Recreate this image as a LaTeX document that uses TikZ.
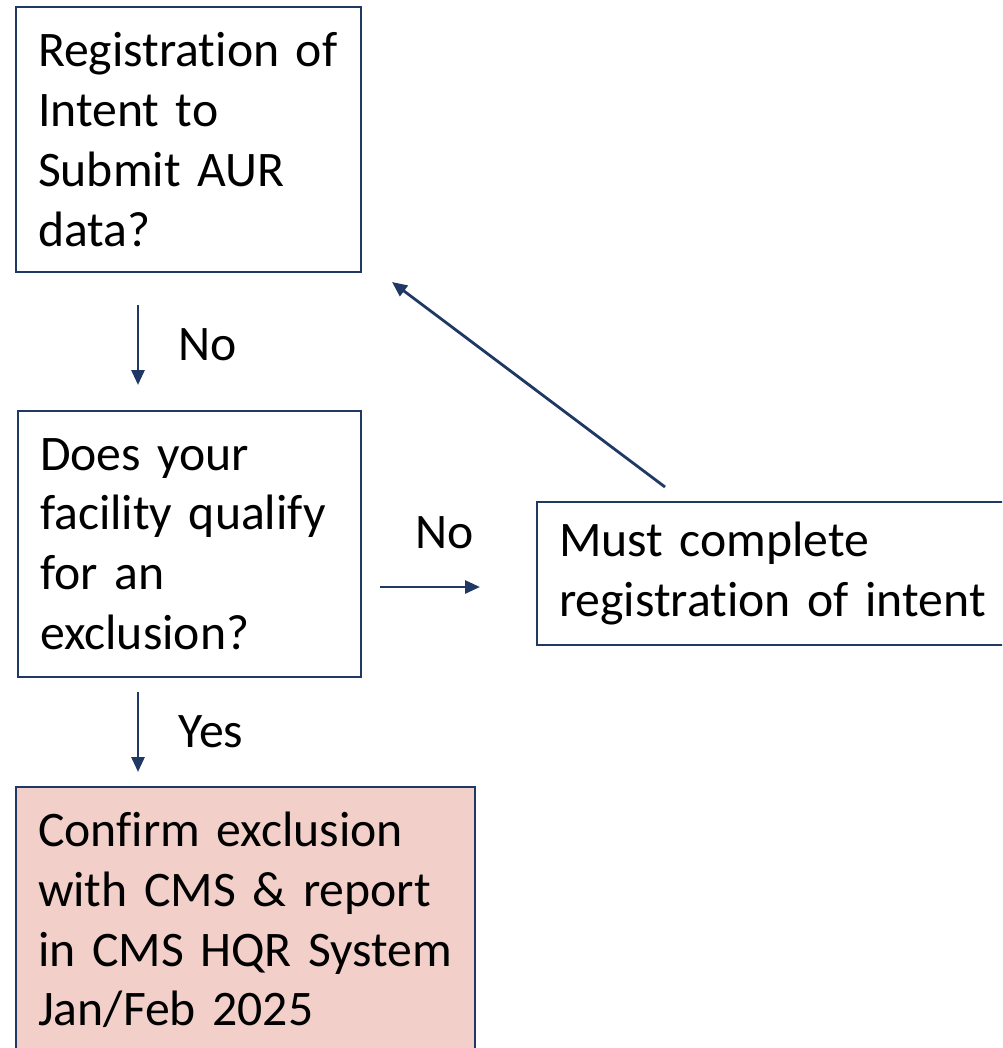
\documentclass[tikz,border=0pt]{standalone}
\usepackage{fontspec}
\setmainfont{Carlito}[Ligatures=NoCommon]
\usepackage{xcolor}
\usetikzlibrary{positioning, arrows.meta}

\definecolor{navy}{HTML}{203864}
\definecolor{pinkfill}{HTML}{F2D0C9}

\newcommand{\boxfont}{\fontsize{28.3}{34}\selectfont\spaceskip=0.17em plus 0.05em}

\begin{document}
\begin{tikzpicture}[
    x=0.02cm, y=-0.02cm,
    box/.style={rectangle, draw=navy, line width=1.2pt, fill=white, align=left, inner xsep=0.44cm, inner ysep=0pt, font=\boxfont},
    end_box/.style={box, fill=pinkfill},
    label_style/.style={anchor=west, inner sep=0pt, font=\boxfont},
    arrow_style/.style={draw=navy, line width=1.6pt, -{Triangle[length=0.3cm, width=0.26cm]}}
]

% page frame
\clip (0,0) rectangle (1002,1048);

% Boxes
\node[box, minimum width=6.9cm, minimum height=5.3cm, text width=6.02cm] (intent) at (188.5,139.5)
    {Registration~of\\Intent to\\Submit AUR\\data?};
\node[box, minimum width=6.86cm, minimum height=5.32cm, text width=5.98cm] (exclusion) at (189.5,544)
    {Does your\\facility~qualify\\for an\\exclusion?};
\node[box, minimum width=9.6cm, minimum height=2.86cm, text width=8.72cm] (register) at (777,573.5)
    {Must complete\\registration~of~intent};
\node[end_box, minimum width=9.18cm, minimum height=5.32cm, text width=8.3cm] (confirm) at (245.5,920)
    {Confirm exclusion\\with CMS \& report\\in~CMS~HQR~System\\Jan/Feb 2025};

% Arrow ends
\coordinate (a1s) at (138,305);
\coordinate (a1e) at (138,385);
\coordinate (a2s) at (380,587);
\coordinate (a2e) at (480,587);
\coordinate (a3s) at (665,487);
\coordinate (a3e) at (392,282);
\coordinate (a4s) at (138,692);
\coordinate (a4e) at (138,772);

% Arrows
\draw[arrow_style] (a1s) -- (a1e);
\draw[arrow_style] (a2s) -- (a2e);
\draw[arrow_style] (a3s) -- (a3e);
\draw[arrow_style] (a4s) -- (a4e);

% Labels
\node[label_style] (no1) at (178,345) {No};
\node[label_style] (no2) at (415,533) {No};
\node[label_style] (yes) at (178,732) {Yes};

\end{tikzpicture}
\end{document}
